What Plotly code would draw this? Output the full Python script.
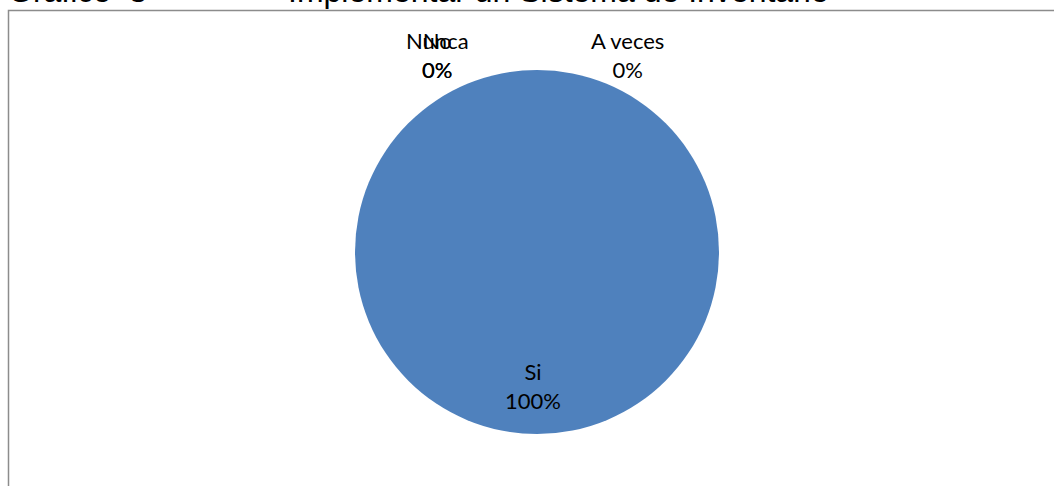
import plotly.graph_objects as go

categories = ["Si", "No", "A veces", "Nunca"]
values = [100, 0, 0, 0]
title_left = "Gráfico  3"
title_right = "Implementar un Sistema de Inventario"

W, H = 1054, 486
total = sum(values)
pct = [f"{round(v / total * 100)}%" for v in values]

fig = go.Figure()
fig.add_trace(go.Pie(
    labels=categories,
    values=values,
    sort=False,
    direction="clockwise",
    rotation=0,
    marker=dict(colors=["#4F81BD", "#C0504D", "#9BBB59", "#8064A2"], line=dict(width=0)),
    textinfo="none",
    hoverinfo="label+percent",
    showlegend=False,
    domain=dict(x=[355 / W, 719 / W], y=[(H - 434) / H, (H - 70) / H]),
))

lab_font = dict(family="Lato, Carlito, Calibri, sans-serif", size=22, color="#000000")
# label positions (pixel) for each category
label_pos = {"Si": (533, 386), "No": (437, 55), "A veces": (627, 55), "Nunca": (437, 55)}
for c, p in zip(categories, pct):
    x, y = label_pos[c]
    fig.add_annotation(
        x=x / W, y=1 - y / H, xref="paper", yref="paper",
        text=f"{c}<br>{p}", showarrow=False, font=lab_font,
        xanchor="center", yanchor="middle", align="center",
    )

title_font = dict(family="Liberation Sans, Arial, sans-serif", size=32, color="#000000")
fig.add_annotation(x=6 / W, y=1 - 11 / H, xref="paper", yref="paper", text=title_left,
                   showarrow=False, font=title_font, xanchor="left", yanchor="bottom")
fig.add_annotation(x=286 / W, y=1 - 11 / H, xref="paper", yref="paper", text=title_right,
                   showarrow=False, font=title_font, xanchor="left", yanchor="bottom")

fig.add_shape(type="rect", xref="paper", yref="paper",
              x0=8.5 / W, x1=1.05, y0=-0.05, y1=1 - 10.5 / H,
              line=dict(color="#8C8C8C", width=1.5), fillcolor="rgba(0,0,0,0)", layer="below")

fig.update_layout(
    width=W, height=H,
    margin=dict(l=0, r=0, t=0, b=0),
    paper_bgcolor="#FFFFFF", plot_bgcolor="#FFFFFF",
)

fig.write_html("out.html", config={"displayModeBar": False},
               post_script="document.body.style.margin='0';document.body.style.overflow='hidden';")
